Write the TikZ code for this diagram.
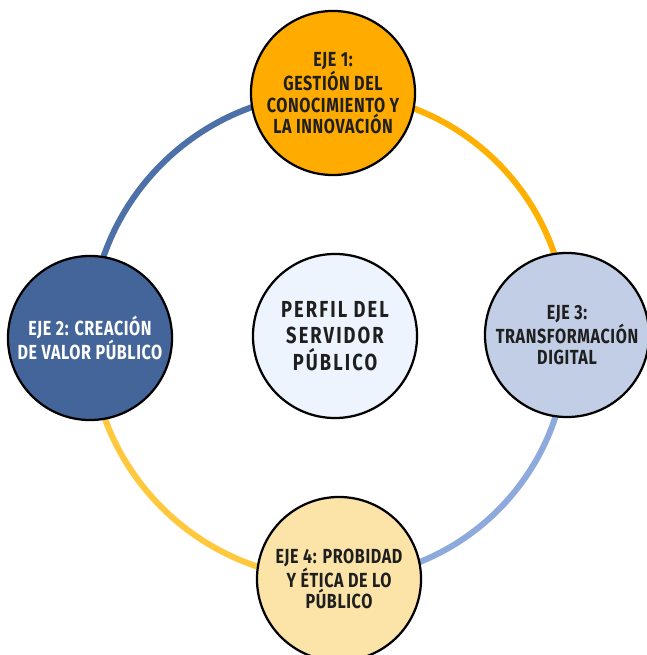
\documentclass[tikz,border=0pt]{standalone}
\usepackage{fontspec}
\setmainfont{Fira Sans}[FakeStretch=0.8, BoldFeatures={FakeStretch=0.79}]
\usetikzlibrary{backgrounds}
\definecolor{ejeuno}{HTML}{FFAB00}
\definecolor{ejedos}{HTML}{44659A}
\definecolor{ejetres}{HTML}{C2CEE6}
\definecolor{ejecuatro}{HTML}{FCE4A8}
\definecolor{perfil}{HTML}{EEF4FD}
\definecolor{ringuno}{HTML}{FFB000}
\definecolor{ringdos}{HTML}{4E70A8}
\definecolor{ringtres}{HTML}{8EA9DB}
\definecolor{ringcuatro}{HTML}{FFC83D}
\definecolor{texto}{HTML}{1F1F1F}
\tikzset{
  eje/.style={
    circle,
    draw=black,
    line width=1.6pt,
    minimum size=4.1cm,
    inner sep=0pt,
    align=center,
    text=texto,
    font=\fontsize{14.5}{15}\selectfont\bfseries\addfontfeatures{LetterSpace=3},
    execute at begin node=\setlength{\baselineskip}{15pt}
  },
  ring/.style={line width=4.3pt}
}

\begin{document}
\begin{tikzpicture}[x=0.025cm, y=-0.025cm]
    \useasboundingbox (0,0) rectangle (646,655);
    \node[eje, fill=ejeuno] (e1) at (333, 93) {EJE 1:\\GESTIÓN DEL\\CONOCIMIENTO Y\\LA INNOVACIÓN};
    \node[eje, fill=ejedos, text=white] (e2) at (90, 338) {EJE 2: CREACIÓN\\DE VALOR PÚBLICO};
    \node[eje, fill=ejetres] (e3) at (567, 335) {EJE 3:\\TRANSFORMACIÓN\\DIGITAL};
    \node[eje, fill=ejecuatro] (e4) at (339, 579) {EJE 4: PROBIDAD\\Y ÉTICA DE LO\\PÚBLICO};
    \node[eje, fill=perfil, font=\fontsize{16.5}{19}\selectfont\bfseries\addfontfeatures{LetterSpace=9},
      execute at begin node=\setlength{\baselineskip}{19pt}] (pf) at (335, 336) {PERFIL DEL\\SERVIDOR\\PÚBLICO};
    \begin{scope}[on background layer]
        \draw[ring, ringuno] (e1.center) to[bend left=45] (e3.center);
        \draw[ring, ringtres] (e3.center) to[bend left=45] (e4.center);
        \draw[ring, ringcuatro] (e4.center) to[bend left=45] (e2.center);
        \draw[ring, ringdos] (e2.center) to[bend left=45] (e1.center);
    \end{scope}
\end{tikzpicture}
\end{document}
